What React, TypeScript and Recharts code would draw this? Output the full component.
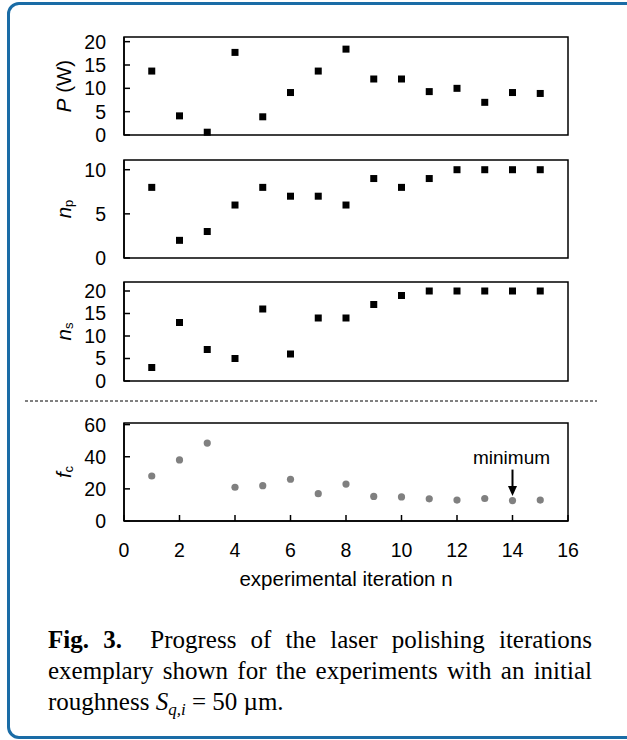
import React from 'react';
import { ScatterChart, Scatter, XAxis, YAxis, ReferenceArea, ReferenceLine, Label } from 'recharts';

// ---- data ----
const iterations = [1, 2, 3, 4, 5, 6, 7, 8, 9, 10, 11, 12, 13, 14, 15];
const powerW = [13.7, 4.1, 0.6, 17.7, 3.9, 9.1, 13.7, 18.4, 12.0, 12.0, 9.3, 10.0, 7.0, 9.1, 8.9];
const nP = [8, 2, 3, 6, 8, 7, 7, 6, 9, 8, 9, 10, 10, 10, 10];
const nS = [3, 13, 7, 5, 16, 6, 14, 14, 17, 19, 20, 20, 20, 20, 20];
const fC = [28, 38, 48.5, 21, 22, 26, 17, 23, 15.3, 15, 13.8, 13, 14, 12.7, 13];

const xTicks = [0, 2, 4, 6, 8, 10, 12, 14, 16];
const pTicks = [0, 5, 10, 15, 20];
const npTicks = [0, 5, 10];
const nsTicks = [0, 5, 10, 15, 20];
const fcTicks = [0, 20, 40, 60];
const minimumIteration = 14;
const xTitle = 'experimental iteration n';

const FONT = '"Liberation Sans", Arial, sans-serif';
const SERIF = '"Liberation Serif", "Times New Roman", serif';

const toPoints = (ys: number[]) => iterations.map((x, i) => ({ x, y: ys[i] }));

const Square = (p: any) => (
  <rect x={p.cx - 3.5} y={p.cy - 3.5} width={7} height={7} fill="#000" />
);
const Dot = (p: any) => <circle cx={p.cx} cy={p.cy} r={3.6} fill="#808080" />;

type TitleSpec = { main: string; sub?: string; rest?: string };

const makeYTitle = (t: TitleSpec) => (props: any) => {
  const vb = props.viewBox || {};
  const cx = 63;
  const cy = vb.y + vb.height / 2;
  return (
    <text
      x={cx}
      y={cy}
      transform={`rotate(-90 ${cx} ${cy})`}
      textAnchor="middle"
      dominantBaseline="central"
      fontFamily={FONT}
      fontSize={20.5}
      fill="#000"
    >
      <tspan fontStyle="italic">{t.main}</tspan>
      {t.sub ? (
        <tspan fontSize={13} dy={5}>
          {t.sub}
        </tspan>
      ) : null}
      {t.rest ? <tspan>{t.rest}</tspan> : null}
    </text>
  );
};

const xTitleContent = (props: any) => {
  const vb = props.viewBox || {};
  const cx = vb.x + vb.width / 2;
  return (
    <text x={cx} y={vb.y + 57} textAnchor="middle" dominantBaseline="central" fontFamily={FONT} fontSize={20.5} fill="#000">
      {xTitle}
    </text>
  );
};

const ArrowShape = (p: any) => {
  const x = p.x1;
  const yTop = Math.min(p.y1, p.y2);
  const yTip = Math.max(p.y1, p.y2);
  return (
    <g>
      <text x={x - 1} y={yTop - 12} textAnchor="middle" dominantBaseline="central" fontFamily={FONT} fontSize={19} fill="#000">
        minimum
      </text>
      <line x1={x} y1={yTop} x2={x} y2={yTip - 8} stroke="#000" strokeWidth={2} />
      <polygon points={`${x - 4.5},${yTip - 10} ${x + 4.5},${yTip - 10} ${x},${yTip}`} fill="#000" />
    </g>
  );
};

type PanelProps = {
  top: number;
  height: number;
  plotTop: number;
  plotBottom: number;
  yMax: number;
  yTicks: number[];
  values: number[];
  title: TitleSpec;
  dots?: boolean;
  showX?: boolean;
  extra?: React.ReactNode;
};

const AXIS = { stroke: '#000', strokeWidth: 1.5 };
const tickStyle = { fill: '#000', fontSize: 19.5, fontFamily: FONT };

function Panel(props: PanelProps) {
  const { top, height, plotTop, plotBottom, yMax, yTicks, values, title, dots, showX } = props;
  const xAxisH = showX ? 70 : 0;
  return (
    <div style={{ position: 'absolute', left: 0, top, width: 627, height }}>
      <ScatterChart
        width={627}
        height={height}
        margin={{ top: plotTop - top, right: 59, left: 0, bottom: top + height - plotBottom - xAxisH }}
      >
        <XAxis
          type="number"
          dataKey="x"
          domain={[0, 16]}
          ticks={xTicks}
          interval={0}
          height={xAxisH}
          axisLine={AXIS}
          tickLine={AXIS}
          tickSize={-6}
          tickMargin={28}
          tick={showX ? tickStyle : false}
          label={showX ? <Label content={xTitleContent} /> : undefined}
        />
        <YAxis
          type="number"
          dataKey="y"
          domain={[0, yMax]}
          ticks={yTicks}
          interval={0}
          width={124}
          axisLine={AXIS}
          tickLine={AXIS}
          tickSize={-6}
          tickMargin={24}
          tick={tickStyle}
          label={<Label content={makeYTitle(title)} />}
        />
        <ReferenceArea x1={0} x2={16} y1={0} y2={yMax} fill="none" stroke="#000" strokeWidth={1.5} ifOverflow="visible" />
        <Scatter data={toPoints(values)} shape={dots ? Dot : Square} isAnimationActive={false} />
        {props.extra}
      </ScatterChart>
    </div>
  );
}

export default function App() {
  return (
    <div style={{ position: 'absolute', left: 0, top: 0, width: 627, height: 740, overflow: 'hidden', background: '#fff' }}>
      <div
        style={{
          position: 'absolute',
          left: 7,
          top: 2,
          width: 700,
          height: 731,
          border: '3px solid #1a6ca6',
          borderRadius: 12,
        }}
      />
      <Panel top={0} height={150} plotTop={37} plotBottom={135} yMax={21} yTicks={pTicks} values={powerW} title={{ main: 'P', rest: ' (W)' }} />
      <Panel top={145} height={128} plotTop={160} plotBottom={258} yMax={11.1} yTicks={npTicks} values={nP} title={{ main: 'n', sub: 'p' }} />
      <Panel top={267} height={128} plotTop={282} plotBottom={381} yMax={22} yTicks={nsTicks} values={nS} title={{ main: 'n', sub: 's' }} />
      <svg style={{ position: 'absolute', left: 0, top: 399 }} width={627} height={4}>
        <line x1={25} x2={597} y1={2} y2={2} stroke="#000" strokeWidth={1} strokeDasharray="3 2" />
      </svg>
      <Panel
        top={408}
        height={190}
        plotTop={423}
        plotBottom={521}
        yMax={61}
        yTicks={fcTicks}
        values={fC}
        title={{ main: 'f', sub: 'c' }}
        dots
        showX
        extra={
          <ReferenceLine
            segment={[
              { x: minimumIteration, y: 32 },
              { x: minimumIteration, y: 15.5 },
            ]}
            shape={ArrowShape}
            ifOverflow="visible"
          />
        }
      />
      <div
        style={{
          position: 'absolute',
          left: 48,
          top: 624,
          width: 544,
          fontFamily: SERIF,
          fontSize: 25,
          lineHeight: '31px',
          color: '#000',
        }}
      >
        <div style={{ textAlign: 'justify', textAlignLast: 'justify' as any, whiteSpace: 'nowrap' }}>
          <b>Fig. 3.</b>&nbsp; Progress of the laser polishing iterations
        </div>
        <div style={{ textAlign: 'justify', textAlignLast: 'justify' as any, whiteSpace: 'nowrap' }}>
          exemplary shown for the experiments with an initial
        </div>
        <div style={{ whiteSpace: 'nowrap' }}>
          roughness <i>S</i>
          <sub style={{ fontSize: 17, fontStyle: 'italic', verticalAlign: '-5px', lineHeight: 0 }}>q,i</sub> = 50 µm.
        </div>
      </div>
    </div>
  );
}
